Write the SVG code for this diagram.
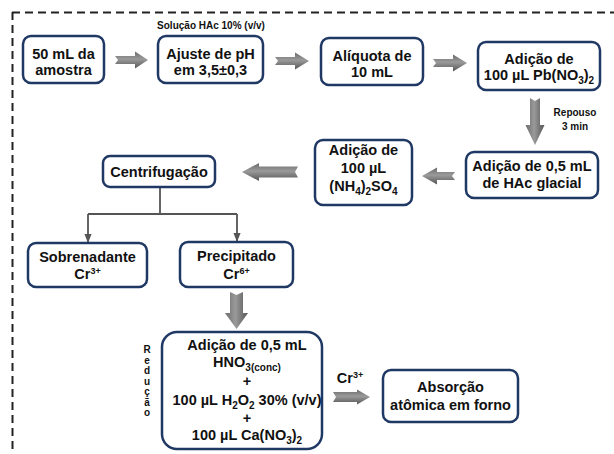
<svg xmlns="http://www.w3.org/2000/svg" width="614" height="454" viewBox="0 0 614 454">
<defs>
<linearGradient id="gh" x1="0" y1="0" x2="0" y2="1">
<stop offset="0" stop-color="#6a6a6a"/><stop offset="0.45" stop-color="#9a9a9a"/><stop offset="1" stop-color="#555"/>
</linearGradient>
<linearGradient id="gv" x1="0" y1="0" x2="1" y2="0">
<stop offset="0" stop-color="#6a6a6a"/><stop offset="0.45" stop-color="#9a9a9a"/><stop offset="1" stop-color="#555"/>
</linearGradient>
<marker id="ah" viewBox="0 0 10 10" refX="9" refY="5" markerWidth="5" markerHeight="5" orient="auto">
<path d="M0,1 L10,5 L0,9 Z" fill="#555"/>
</marker>
<style>
.box{fill:#fff;stroke:#203864;stroke-width:2.5}
.t{font-family:"Liberation Sans",Arial,sans-serif;font-weight:bold;font-size:14.5px;fill:#111;text-anchor:middle}
.s{font-family:"Liberation Sans",Arial,sans-serif;font-weight:bold;font-size:10px;fill:#111;text-anchor:middle}
.sub{font-size:10px}
.sup{font-size:9px}
.ah{fill:url(#gh)}
.av{fill:url(#gv)}
.tree{fill:none;stroke:#555;stroke-width:1.8}
.dash{fill:none;stroke:#222;stroke-width:2;stroke-dasharray:8 5}
</style>
</defs>
<g id="border">
<path class="dash" d="M12,12.5 H614"/>
<path class="dash" d="M12.5,12 V454"/>
</g>
<g id="connectors">
<path class="ah" d="M115,56 H135 V51.5 L148,60 L135,68.5 V64 H115 L118,60 Z"/>
<path class="ah" d="M275,57 H295 V52.5 L309,61 L295,69.5 V65 H275 L278,61 Z"/>
<path class="ah" d="M433,59 H453 V54.5 L467,63 L453,71.5 V67 H433 L436,63 Z"/>
<path class="av" d="M530,98 V125 H525.5 L535,145 L544.5,125 H540 V98 L535,101 Z"/>
<path class="ah" d="M455,172 H437 V167.5 L422,176 L437,184.5 V180 H455 L452,176 Z"/>
<path class="ah" d="M298,166.5 H259 V163 L242,172 L259,181 V177.5 H298 L295,172 Z"/>
<path class="tree" d="M160,187 V214 M88,214 H237"/>
<path class="tree" d="M88,214 V242" marker-end="url(#ah)"/>
<path class="tree" d="M237,214 V241" marker-end="url(#ah)"/>
<path class="av" d="M230,292 V313 H225 L236.5,329 L248,313 H243 V292 L236.5,295 Z"/>
<path class="ah" d="M333,392 H357 V389.5 L370,397 L357,404.5 V402 H333 L336,397 Z"/>
</g>
<g id="n-label-hac"><text class="s" x="211" y="29" font-size="10.5">Solução HAc 10% (v/v)</text></g>
<g id="n-label-repouso"><text class="s" x="575" y="116" font-size="10.5">Repouso</text><text class="s" x="575" y="130" font-size="10.5">3 min</text></g>
<g id="n-label-cr3"><text class="t" x="350" y="383">Cr<tspan class="sup" dy="-5">3+</tspan></text></g>
<g id="n-label-reducao">
<text class="s" x="147" y="353">R</text><text class="s" x="147" y="363.5">e</text><text class="s" x="147" y="374">d</text><text class="s" x="147" y="384.5">u</text><text class="s" x="147" y="395">ç</text><text class="s" x="147" y="405.5">ã</text><text class="s" x="147" y="416">o</text>
</g>
<g id="n1"><rect class="box" x="23" y="36" width="81" height="47" rx="8"/>
<text class="t" x="63.5" y="59">50 mL da</text><text class="t" x="63.5" y="75">amostra</text></g>
<g id="n2"><rect class="box" x="158" y="36" width="105" height="47" rx="8"/>
<text class="t" x="210.5" y="59">Ajuste de pH</text><text class="t" x="210.5" y="75">em 3,5±0,3</text></g>
<g id="n3"><rect class="box" x="321" y="38" width="102" height="47" rx="8"/>
<text class="t" x="372" y="61">Alíquota de</text><text class="t" x="372" y="77">10 mL</text></g>
<g id="n4"><rect class="box" x="478" y="42" width="122" height="48" rx="8"/>
<text class="t" x="539" y="64">Adição de</text>
<text class="t" x="539" y="80">100 µL Pb(NO<tspan class="sub" dy="4">3</tspan><tspan dy="-4">)</tspan><tspan class="sub" dy="4">2</tspan></text></g>
<g id="n5"><rect class="box" x="466" y="152" width="132" height="46" rx="8"/>
<text class="t" x="532" y="171">Adição de 0,5 mL</text><text class="t" x="532" y="188">de HAc glacial</text></g>
<g id="n6"><rect class="box" x="315" y="140" width="97" height="65" rx="8"/>
<text class="t" x="363.5" y="155">Adição de</text><text class="t" x="363.5" y="173">100 µL</text>
<text class="t" x="363.5" y="191">(NH<tspan class="sub" dy="4">4</tspan><tspan dy="-4">)</tspan><tspan class="sub" dy="4">2</tspan><tspan dy="-4">SO</tspan><tspan class="sub" dy="4">4</tspan></text></g>
<g id="n7"><rect class="box" x="103" y="156" width="112" height="31" rx="7"/>
<text class="t" x="159" y="177">Centrifugação</text></g>
<g id="n8"><rect class="box" x="28" y="243" width="119" height="44" rx="8"/>
<text class="t" x="87.5" y="262">Sobrenadante</text><text class="t" x="87.5" y="279">Cr<tspan class="sup" dy="-5">3+</tspan></text></g>
<g id="n9"><rect class="box" x="180" y="242" width="113" height="45" rx="8"/>
<text class="t" x="236.5" y="261">Precipitado</text><text class="t" x="236.5" y="279">Cr<tspan class="sup" dy="-5">6+</tspan></text></g>
<g id="n10"><rect class="box" x="162" y="332" width="160" height="117" rx="15"/>
<text class="t" x="247" y="350">Adição de 0,5 mL</text>
<text class="t" x="247" y="367">HNO<tspan class="sub" dy="4">3(conc)</tspan></text>
<text class="t" x="247" y="386">+</text>
<text class="t" x="247" y="405">100 µL H<tspan class="sub" dy="4">2</tspan><tspan dy="-4">O</tspan><tspan class="sub" dy="4">2</tspan><tspan dy="-4"> 30% (v/v)</tspan></text>
<text class="t" x="247" y="423">+</text>
<text class="t" x="247" y="440">100 µL Ca(NO<tspan class="sub" dy="4">3</tspan><tspan dy="-4">)</tspan><tspan class="sub" dy="4">2</tspan></text></g>
<g id="n11"><rect class="box" x="383" y="370" width="135" height="52" rx="8"/>
<text class="t" x="450.5" y="392">Absorção</text><text class="t" x="450.5" y="410">atômica em forno</text></g>
</svg>
